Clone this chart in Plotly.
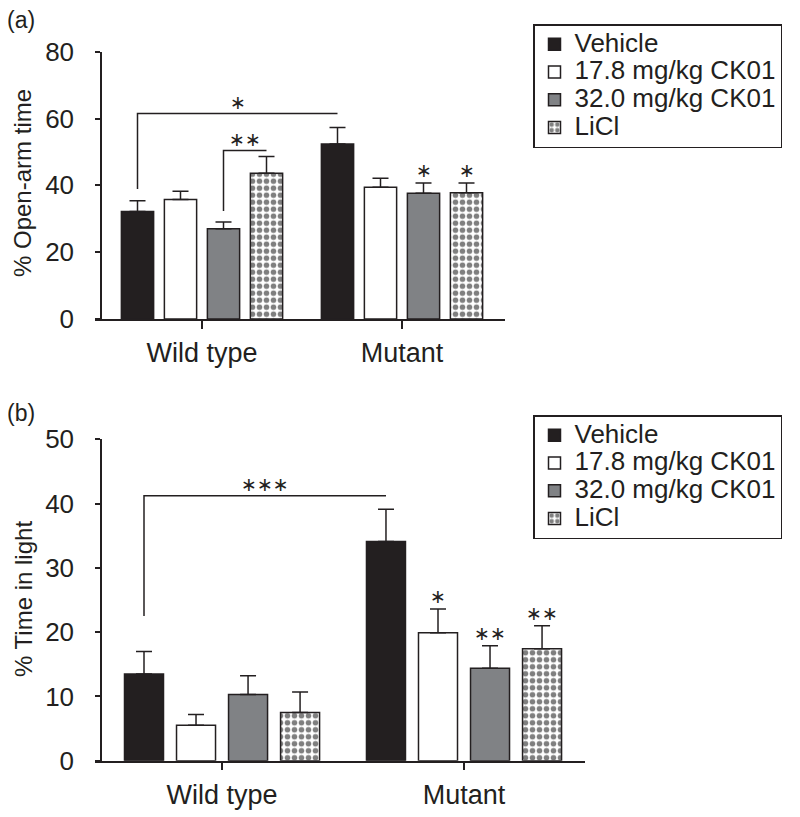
import plotly.graph_objects as go

# ---------------- data ----------------
groups = ["Wild type", "Mutant"]
treatments = ["Vehicle", "17.8 mg/kg CK01", "32.0 mg/kg CK01", "LiCl"]

# Panel (a): % Open-arm time (mean, SEM) per treatment, [Wild type, Mutant]
open_arm_vehicle = [32.2, 52.4]
open_arm_ck178 = [35.8, 39.4]
open_arm_ck320 = [27.0, 37.6]
open_arm_licl = [43.6, 37.8]
open_arm_vehicle_sem = [3.2, 4.9]
open_arm_ck178_sem = [2.4, 2.7]
open_arm_ck320_sem = [2.0, 3.1]
open_arm_licl_sem = [5.0, 2.9]

# Panel (b): % Time in light
light_vehicle = [13.5, 34.1]
light_ck178 = [5.5, 19.9]
light_ck320 = [10.3, 14.4]
light_licl = [7.5, 17.4]
light_vehicle_sem = [3.5, 5.0]
light_ck178_sem = [1.7, 3.7]
light_ck320_sem = [2.9, 3.5]
light_licl_sem = [3.2, 3.6]

# significance marks: (group index, treatment index, label)
open_arm_stars = [(1, 2, "∗"), (1, 3, "∗")]
light_stars = [(1, 1, "∗"), (1, 2, "∗∗"), (1, 3, "∗∗")]
# brackets: (group1, trt1, group2, trt2, low value, bracket value, label)
open_arm_brackets = [(0, 0, 1, 0, 38.9, 61.5, "∗"), (0, 2, 0, 3, 32.3, 50.4, "∗∗")]
light_brackets = [(0, 0, 1, 0, 22.5, 41.2, "∗∗∗")]

a_ticks = [0, 20, 40, 60, 80]
b_ticks = [0, 10, 20, 30, 40, 50]

# ---------------- styling ----------------
INK = "#231f20"
GRAY = "#808285"
FONT = "Liberation Sans, Arial, Helvetica, sans-serif"
BARGAP = 0.14
SLOT = (1 - BARGAP) / 4

styles = [
    dict(color=INK),
    dict(color="white"),
    dict(color=GRAY),
    dict(color="white", pattern=dict(shape=".", fgcolor="black", bgcolor="white",
                                     size=7, solidity=0.5, fillmode="overlay")),
]

a_means = [open_arm_vehicle, open_arm_ck178, open_arm_ck320, open_arm_licl]
a_sems = [open_arm_vehicle_sem, open_arm_ck178_sem, open_arm_ck320_sem, open_arm_licl_sem]
b_means = [light_vehicle, light_ck178, light_ck320, light_licl]
b_sems = [light_vehicle_sem, light_ck178_sem, light_ck320_sem, light_licl_sem]

fig = go.Figure()
xpos = list(range(len(groups)))

for panel, (means, sems, xa, ya, leg) in enumerate([
        (a_means, a_sems, "x", "y", "legend"),
        (b_means, b_sems, "x2", "y2", "legend2")]):
    for i, name in enumerate(treatments):
        m = dict(styles[i])
        m["line"] = dict(color=INK, width=1.5)
        fig.add_trace(go.Bar(
            x=xpos, y=means[i], marker=m,
            name=f'<span style="font-size:26px">{name}</span>',
            xaxis=xa, yaxis=ya, legend=leg,
            error_y=dict(type="data", symmetric=False, array=sems[i],
                         arrayminus=[0] * len(groups), color=INK,
                         thickness=1.5, width=8),
        ))


def bar_center(g, i):
    return g + (i - 1.5) * SLOT


shapes = []
annotations = []
for means, sems, stars, brackets, xr, yr in [
        (a_means, a_sems, open_arm_stars, open_arm_brackets, "x", "y"),
        (b_means, b_sems, light_stars, light_brackets, "x2", "y2")]:
    for g, i, lab in stars:
        annotations.append(dict(x=bar_center(g, i), y=means[i][g] + sems[i][g],
                                xref=xr, yref=yr, text=lab, showarrow=False,
                                yanchor="middle", yshift=13,
                                font=dict(family="DejaVu Sans", size=19, color=INK)))
    for g1, i1, g2, i2, low, top, lab in brackets:
        x1, x2 = bar_center(g1, i1), bar_center(g2, i2)
        shapes.append(dict(type="path", xref=xr, yref=yr,
                           path=f"M {x1},{low} L {x1},{top} L {x2},{top}",
                           line=dict(color=INK, width=1.5)))
        annotations.append(dict(x=(x1 + x2) / 2, y=top, xref=xr, yref=yr, text=lab,
                                showarrow=False, yanchor="middle", yshift=12,
                                font=dict(family="DejaVu Sans", size=19, color=INK)))

# the page body adds an 8 px offset; figure is sized to fill the window
OFF = 8
W, H = 800 - OFF, 817 - OFF


def px(x):
    return (x - OFF) / W


def py(y):
    return 1 - (y - OFF) / H


annotations += [
    dict(x=px(5), y=py(20), xref="paper", yref="paper", text="(a)", showarrow=False,
         xanchor="left", yanchor="middle", font=dict(family=FONT, size=23, color=INK)),
    dict(x=px(5), y=py(413), xref="paper", yref="paper", text="(b)", showarrow=False,
         xanchor="left", yanchor="middle", font=dict(family=FONT, size=23, color=INK)),
    dict(x=px(23), y=py(183), xref="paper", yref="paper", text="% Open-arm time",
         showarrow=False, textangle=-90, xanchor="center", yanchor="middle",
         font=dict(family=FONT, size=24, color=INK)),
    dict(x=px(23), y=py(599), xref="paper", yref="paper", text="% Time in light",
         showarrow=False, textangle=-90, xanchor="center", yanchor="middle",
         font=dict(family=FONT, size=24, color=INK)),
]

xaxis_common = dict(tickvals=xpos, ticktext=groups, showline=True, linecolor=INK,
                    linewidth=1.5, ticks="outside", ticklen=8, tickwidth=1.5,
                    tickcolor=INK, showgrid=False, zeroline=False, automargin=False,
                    tickfont=dict(family=FONT, size=27, color=INK),
                    ticklabelstandoff=1, fixedrange=True)
yaxis_common = dict(showline=True, linecolor=INK, linewidth=1.5, ticks="outside",
                    ticklen=5, tickwidth=1.5, tickcolor=INK, showgrid=False,
                    zeroline=False, automargin=False,
                    tickfont=dict(family=FONT, size=26, color=INK),
                    ticklabelstandoff=16, anchor="free", position=px(101))

legend_common = dict(x=px(533), xanchor="left", yanchor="top", bgcolor="white",
                     bordercolor=INK, borderwidth=1.5,
                     font=dict(family=FONT, size=19, color=INK), traceorder="normal")

fig.update_layout(
    template="none",
    width=W, height=H, margin=dict(l=0, r=0, t=0, b=0, pad=0, autoexpand=False),
    paper_bgcolor="white", plot_bgcolor="white",
    barmode="group", bargap=BARGAP, bargroupgap=0.25,
    xaxis=dict(domain=[px(95), px(505)], range=[-0.535, 1.515], anchor="y", **xaxis_common),
    yaxis=dict(domain=[py(319), py(51.7)], range=[0, 80], tickvals=a_ticks, **yaxis_common),
    xaxis2=dict(domain=[px(95), px(585)], range=[-0.525, 1.5], anchor="y2", **xaxis_common),
    yaxis2=dict(domain=[py(760.7), py(439.3)], range=[0, 50], tickvals=b_ticks, **yaxis_common),
    legend=dict(y=py(24), **legend_common),
    legend2=dict(y=py(415), **legend_common),
    shapes=shapes, annotations=annotations,
    showlegend=True,
)

fig.write_html("out.html")
